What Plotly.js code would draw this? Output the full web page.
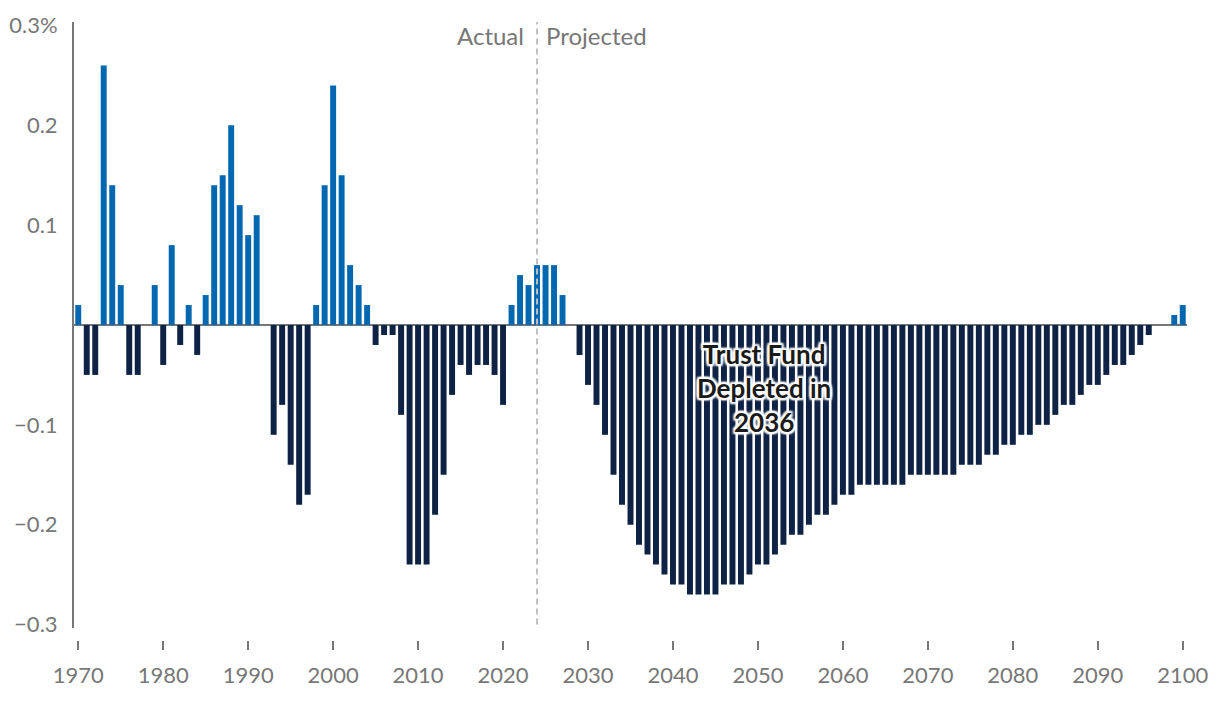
<!DOCTYPE html>
<html>
<head>
<meta charset="utf-8">
<script src="https://cdn.plot.ly/plotly-3.0.1.min.js"></script>
<style>html,body{margin:0;padding:0;background:#fff;}#chart{width:1220px;height:710px;}</style>
</head>
<body>
<div id="chart"></div>
<script>
// Annual balance, percent of GDP, 1970-2100
const startYear = 1970;
const balance = [
  0.02, -0.05, -0.05, 0.26, 0.14, 0.04, -0.05, -0.05, 0, 0.04,      // 1970-1979
  -0.04, 0.08, -0.02, 0.02, -0.03, 0.03, 0.14, 0.15, 0.20, 0.12,    // 1980-1989
  0.09, 0.11, 0, -0.11, -0.08, -0.14, -0.18, -0.17, 0.02, 0.14,     // 1990-1999
  0.24, 0.15, 0.06, 0.04, 0.02, -0.02, -0.01, -0.01, -0.09, -0.24,  // 2000-2009
  -0.24, -0.24, -0.19, -0.15, -0.07, -0.04, -0.05, -0.04, -0.04, -0.05, // 2010-2019
  -0.08, 0.02, 0.05, 0.04, 0.06, 0.06, 0.06, 0.03, 0, -0.03,        // 2020-2029
  -0.06, -0.08, -0.11, -0.15, -0.18, -0.20, -0.22, -0.23, -0.24, -0.25, // 2030-2039
  -0.26, -0.26, -0.27, -0.27, -0.27, -0.27, -0.26, -0.26, -0.26, -0.25, // 2040-2049
  -0.24, -0.24, -0.23, -0.22, -0.21, -0.21, -0.20, -0.19, -0.19, -0.18, // 2050-2059
  -0.17, -0.17, -0.16, -0.16, -0.16, -0.16, -0.16, -0.16, -0.15, -0.15, // 2060-2069
  -0.15, -0.15, -0.15, -0.15, -0.14, -0.14, -0.14, -0.13, -0.13, -0.12, // 2070-2079
  -0.12, -0.11, -0.11, -0.10, -0.10, -0.09, -0.08, -0.08, -0.07, -0.06, // 2080-2089
  -0.06, -0.05, -0.04, -0.04, -0.03, -0.02, -0.01, 0, 0, 0.01,      // 2090-2099
  0.02                                                               // 2100
];
const years = balance.map((v, i) => startYear + i);

const xTickVals = [1970, 1980, 1990, 2000, 2010, 2020, 2030, 2040, 2050, 2060, 2070, 2080, 2090, 2100];
const xTickText = ['1970','1980','1990','2000','2010','2020','2030','2040','2050','2060','2070','2080','2090','2100'];
const yTickVals = [0.3, 0.2, 0.1, -0.1, -0.2, -0.3];
const yTickText = ['0.3%', '0.2', '0.1', '\u22120.1', '\u22120.2', '\u22120.3'];

const dividerYear = 2024;
const depletionYear = 2036;
const noteX = 2050.7;
const noteY = -0.063;

const POS = '#0067B1';
const NEG = '#0E2245';
const GREY = '#777777';

const trace = {
  type: 'bar',
  x: years,
  y: balance,
  marker: { color: balance.map(v => v >= 0 ? POS : NEG), line: { width: 0 } },
  hoverinfo: 'skip'
};

const halo = '2px 0 2px #fff, -2px 0 2px #fff, 0 2px 2px #fff, 0 -2px 2px #fff, 2px 2px 2px #fff, -2px -2px 2px #fff, 2px -2px 2px #fff, -2px 2px 2px #fff';

const layout = {
  width: 1220, height: 710,
  margin: { l: 74, r: 33, t: 22, b: 70, pad: 0 },
  paper_bgcolor: '#fff', plot_bgcolor: '#fff',
  font: { family: 'Lato, "Open Sans", sans-serif', size: 22, color: GREY },
  showlegend: false,
  bargap: 0.3,
  xaxis: {
    range: [1969.5, 2100.5],
    anchor: 'free', position: 0,
    tickmode: 'array', tickvals: xTickVals, ticktext: xTickText,
    ticks: 'outside', ticklen: 9, tickwidth: 2, tickcolor: GREY,
    showline: false, showgrid: false, zeroline: false,
    tickfont: { size: 22, color: GREY },
    ticklabelstandoff: 7
  },
  yaxis: {
    domain: [12 / 618, 1],
    range: [-0.3035, 0.3035],
    tickmode: 'array', tickvals: yTickVals, ticktext: yTickText,
    ticks: '', showgrid: false,
    showline: true, linecolor: GREY, linewidth: 2,
    zeroline: true, zerolinecolor: GREY, zerolinewidth: 2,
    tickfont: { size: 22, color: GREY },
    ticklabelstandoff: 10
  },
  shapes: [{
    type: 'line', xref: 'x', yref: 'y', layer: 'above',
    x0: dividerYear, x1: dividerYear, y0: -0.3, y1: 0.3035,
    line: { color: '#BFBFBF', width: 2, dash: '6px,4px' }
  }],
  annotations: [
    { xref: 'x', yref: 'y', x: dividerYear, y: 0.29, text: 'Actual', showarrow: false,
      xanchor: 'right', yanchor: 'middle', xshift: -11, font: { size: 24, color: GREY } },
    { xref: 'x', yref: 'y', x: dividerYear, y: 0.29, text: 'Projected', showarrow: false,
      xanchor: 'left', yanchor: 'middle', xshift: 7, font: { size: 24, color: GREY } },
    { xref: 'x', yref: 'y', x: noteX, y: noteY,
      text: '<b>Trust Fund<br>Depleted in<br>' + depletionYear + '</b>', showarrow: false,
      xanchor: 'center', yanchor: 'middle', align: 'center',
      font: { size: 26, color: '#1A1A1A', shadow: halo } }
  ]
};

Plotly.newPlot('chart', [trace], layout, { staticPlot: true, displayModeBar: false });
</script>
</body>
</html>
